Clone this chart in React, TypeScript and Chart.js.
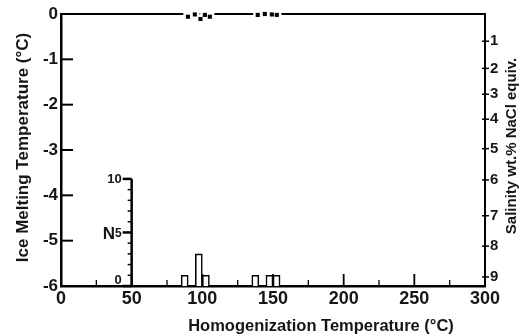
import React, { useEffect, useRef } from "react";
import { Chart, registerables } from "chart.js";

Chart.register(...registerables);

// ---- data ----
const xTickStep = 50;
const xMinorStep = 25;
const xRange = [0, 300];
const yRange = [-6, 0];
const salinityLabels = ["1", "2", "3", "4", "5", "6", "7", "8", "9"];
const salinityTickTm = [-0.6, -1.2, -1.77, -2.32, -2.97, -3.66, -4.45, -5.12, -5.8];
const thValues = [89.8, 94.7, 98.7, 101.8, 105.3, 139.2, 144.2, 149.2, 152.7];
const tmValues = [-0.06, -0.01, -0.11, -0.02, -0.06, -0.02, 0.0, -0.01, -0.02];
const binCenters = [87.5, 97.5, 102.5, 137.5, 147.5, 152.5];
const binCounts = [1, 3, 1, 1, 1, 1];
const nTicks = [0, 5, 10];
const insetAxisAt = 50;

const FONT = "'Liberation Sans', Arial, sans-serif";
const INK = "#161616";

const points = thValues.map((v, i) => ({ x: v, y: tmValues[i] }));
const bars = binCenters.map((v, i) => ({ x: v, y: binCounts[i] }));

function line(ctx: CanvasRenderingContext2D, x1: number, y1: number, x2: number, y2: number) {
  ctx.beginPath();
  ctx.moveTo(x1, y1);
  ctx.lineTo(x2, y2);
  ctx.stroke();
}

const decor = {
  id: "decor",
  beforeDatasetsDraw(chart: any) {
    const { ctx, chartArea: a, scales } = chart;
    const x = scales.x;
    ctx.save();
    ctx.strokeStyle = "#000";
    ctx.lineWidth = 2;
    line(ctx, a.left, a.top, a.right, a.top);
    for (let v = x.min; v <= x.max; v += xMinorStep) {
      const px = x.getPixelForValue(v);
      const major = v % xTickStep === 0;
      ctx.lineWidth = major ? 1.8 : 1.3;
      line(ctx, px, a.bottom, px, a.bottom - (major ? 12 : 6));
    }
    ctx.restore();
  },
  afterDraw(chart: any) {
    const { ctx, chartArea: a, scales } = chart;
    const x = scales.x, y = scales.y, yR = scales.yR, yN = scales.yN;
    ctx.save();
    ctx.strokeStyle = "#000";
    ctx.lineWidth = 2;
    y.ticks.forEach((t: any) => {
      const py = y.getPixelForValue(t.value);
      line(ctx, a.left, py, a.left + 12, py);
    });
    ctx.lineWidth = 1.5;
    yR.ticks.forEach((t: any) => {
      const py = yR.getPixelForValue(t.value);
      line(ctx, a.right - 3, py, a.right + 4, py);
    });
    // inset histogram axis
    const ax = x.getPixelForValue(insetAxisAt);
    const nMax = nTicks[nTicks.length - 1];
    ctx.lineWidth = 2.5;
    line(ctx, ax, yN.getPixelForValue(0), ax, yN.getPixelForValue(nMax));
    for (let i = 0; i <= nMax; i++) {
      const py = yN.getPixelForValue(i);
      const major = nTicks.includes(i);
      ctx.lineWidth = major ? 2.5 : 1.5;
      line(ctx, ax - (major ? 9 : 4), py, ax, py);
    }
    ctx.fillStyle = INK;
    ctx.textAlign = "right";
    ctx.textBaseline = "middle";
    nTicks.forEach((n) => {
      const py = yN.getPixelForValue(n);
      if (n === 0) {
        ctx.font = `bold 13px ${FONT}`;
        ctx.fillText(String(n), ax - 10, py - 6);
      } else if (n === nMax) {
        ctx.font = `bold 13px ${FONT}`;
        ctx.fillText(String(n), ax - 10, py + 1);
      } else {
        ctx.font = `bold 12px ${FONT}`;
        ctx.fillText(String(n), ax - 10, py + 1);
        const w = ctx.measureText(String(n)).width;
        ctx.font = `bold 17px ${FONT}`;
        ctx.fillText("N", ax - 10 - w, py + 2);
      }
    });
    // titles
    ctx.textAlign = "center";
    ctx.textBaseline = "alphabetic";
    ctx.font = `bold 16.5px ${FONT}`;
    ctx.fillText("Homogenization Temperature (°C)", 321, 331);
    ctx.save();
    ctx.translate(28, 147.5);
    ctx.rotate(-Math.PI / 2);
    ctx.font = `bold 17px ${FONT}`;
    ctx.fillText("Ice Melting Temperature (°C)", 0, 0);
    ctx.restore();
    ctx.save();
    ctx.translate(515.5, 146);
    ctx.rotate(-Math.PI / 2);
    ctx.font = `bold 15px ${FONT}`;
    ctx.fillText("Salinity wt.% NaCl equiv.", 0, 0);
    ctx.restore();
    ctx.restore();
  },
};

export default function App() {
  const ref = useRef<HTMLCanvasElement>(null);
  useEffect(() => {
    document.body.style.margin = "0";
    const canvas = ref.current!;
    const chart = new Chart(canvas, {
      type: "scatter",
      data: {
        datasets: [
          {
            type: "scatter",
            data: points,
            xAxisID: "x",
            yAxisID: "y",
            pointStyle: "rect",
            pointRadius: 2.9,
            pointBorderWidth: 0,
            borderWidth: 0,
            backgroundColor: "#000",
            clip: false,
            order: 0,
          } as any,
          {
            type: "scatter",
            data: points,
            xAxisID: "x",
            yAxisID: "y",
            pointStyle: "rect",
            pointRadius: 6.5,
            pointBorderWidth: 0,
            borderWidth: 0,
            backgroundColor: "#fff",
            clip: false,
            order: 1,
          } as any,
          {
            type: "bar",
            data: bars,
            xAxisID: "x",
            yAxisID: "yN",
            backgroundColor: "#fff",
            borderColor: "#000",
            borderWidth: 1.6,
            barPercentage: 1,
            categoryPercentage: 1,
            order: 2,
          } as any,
        ],
      },
      options: {
        responsive: false,
        animation: false,
        events: [],
        layout: { padding: { top: 14, left: 0, right: 0, bottom: 0 } },
        plugins: { legend: { display: false }, tooltip: { enabled: false } },
        scales: {
          x: {
            type: "linear",
            position: "bottom",
            min: xRange[0],
            max: xRange[1],
            offset: false,
            grid: { display: false, drawTicks: false, offset: false },
            border: { display: true, width: 2.5, color: "#000" },
            ticks: {
              stepSize: xTickStep,
              padding: 2,
              color: INK,
              font: { family: FONT, size: 18, weight: "bold" },
              maxRotation: 0,
            },
            afterFit: (s: any) => {
              s.height = 49;
            },
          },
          y: {
            type: "linear",
            position: "left",
            min: yRange[0],
            max: yRange[1],
            grid: { display: false, drawTicks: false },
            border: { display: true, width: 2.5, color: "#000" },
            ticks: {
              stepSize: 1,
              padding: 3,
              color: INK,
              font: { family: FONT, size: 17, weight: "bold" },
              callback: (v: any) => String(v),
            },
            afterFit: (s: any) => {
              s.width = 61;
            },
          },
          yR: {
            type: "linear",
            position: "right",
            min: yRange[0],
            max: yRange[1],
            grid: { display: false, drawTicks: false },
            border: { display: true, width: 2, color: "#000" },
            afterBuildTicks: (s: any) => {
              s.ticks = salinityTickTm.map((v) => ({ value: v }));
            },
            ticks: {
              autoSkip: false,
              padding: 5,
              color: INK,
              font: { family: FONT, size: 15, weight: "bold" },
              callback: (_v: any, i: number) => salinityLabels[i],
            },
            afterFit: (s: any) => {
              s.width = 37;
            },
          },
          yN: {
            type: "linear",
            position: "left",
            display: false,
            min: 0,
            max: 25.4,
          },
        },
      } as any,
      plugins: [decor],
    });
    return () => chart.destroy();
  }, []);
  return <canvas ref={ref} width={522} height={335} style={{ display: "block" }} />;
}
